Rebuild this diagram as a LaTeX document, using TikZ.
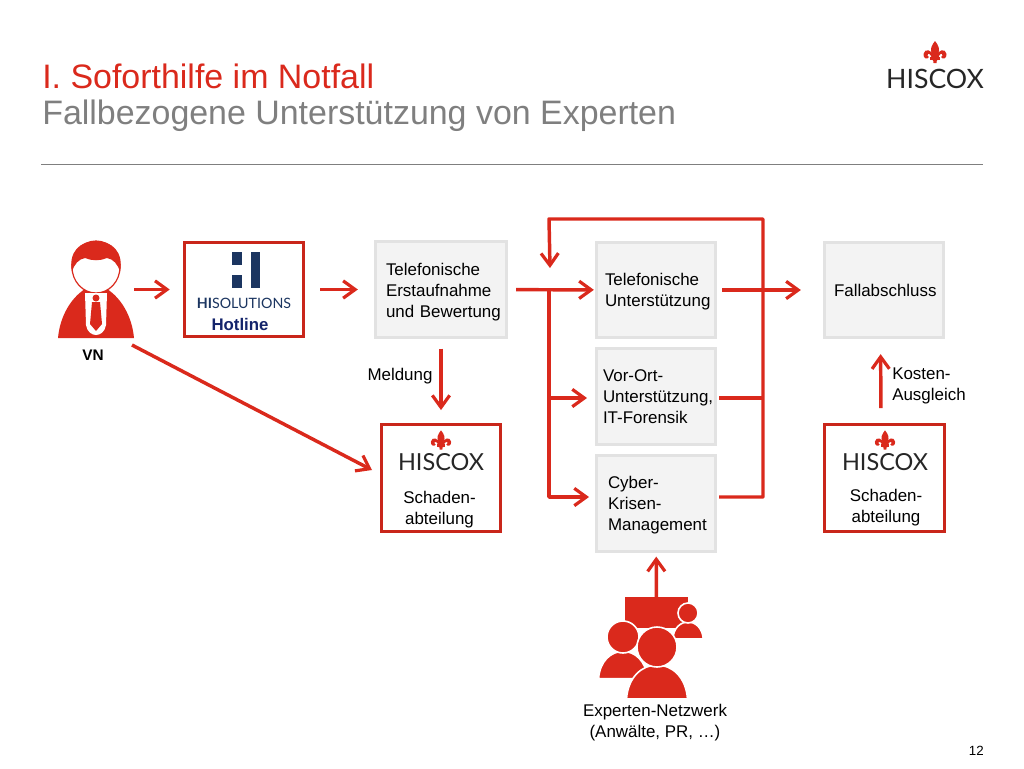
\documentclass[tikz,border=0pt]{standalone}
\usepackage{fontspec}
\setmainfont{Liberation Sans}
\newfontfamily\logofont{Lato}
\usetikzlibrary{arrows.meta}
\definecolor{hisred}{HTML}{DA291C}
\definecolor{boxgrey}{HTML}{F3F3F3}
\definecolor{boxline}{HTML}{E2E2E2}
\definecolor{titlegrey}{HTML}{7F7F7F}
\definecolor{hinavy}{HTML}{1B3560}
\definecolor{hotblue}{HTML}{14246B}
\newcommand{\down}[1]{\rule{0pt}{#1}}
\tikzset{
  flow/.style={draw=hisred, line width=2.6pt, line join=round},
  flowarrow/.style={flow, -{Straight Barb[length=9pt,width=13pt,line width=2.4pt]}},
  gap/.style 2 args={shorten <=#1*.75pt, shorten >=#2*.75pt},
  greybox/.style={draw=boxline, fill=boxgrey, line width=2.2pt, minimum width=89.5pt, minimum height=71.5pt, align=left, inner sep=0pt, font=\fontsize{12.7pt}{15.7pt}\selectfont, execute at begin node={\hyphenpenalty=10000\exhyphenpenalty=10000}},
  redbox/.style={draw=hisred!92!black, fill=white, line width=2.4pt, minimum width=89.5pt, inner sep=0pt},
  lbl/.style={align=center, inner sep=0pt, font=\fontsize{12.7pt}{15.7pt}\selectfont},
  logotext/.style={inner sep=0pt, text=black!85, font=\logofont\fontsize{#1}{20pt}\selectfont},
  fleur/.pic={
    \fill[hisred] (0,-11) .. controls (3,-7) and (6,-3) .. (2.5,3) -- (1.5,11) -- (-1.5,11) -- (-2.5,3) .. controls (-6,-3) and (-3,-7) .. (0,-11) -- cycle;
    \fill[hisred] (-1,5) .. controls (-3,-3) and (-10.5,-4) .. (-11.5,2) .. controls (-12,6.5) and (-7.5,8) .. (-6,5) .. controls (-7.5,5) and (-8,3) .. (-7,2) .. controls (-5,1) and (-3.5,4) .. (-3,8) -- (-1,8) -- cycle;
    \fill[hisred] (1,5) .. controls (3,-3) and (10.5,-4) .. (11.5,2) .. controls (12,6.5) and (7.5,8) .. (6,5) .. controls (7.5,5) and (8,3) .. (7,2) .. controls (5,1) and (3.5,4) .. (3,8) -- (1,8) -- cycle;
    \fill[hisred] (-5,5) rectangle (5,7.5);
  },
  buddy/.pic={
    \draw[fill=hisred, draw=white, line width=1.2pt] (-30.5,52) .. controls (-29,30) and (-15,18) .. (0,18) .. controls (15,18) and (29,30) .. (30.5,52) -- cycle;
    \draw[fill=hisred, draw=white, line width=1.2pt] (0,0) circle (20);
  }
}
\begin{document}
\begin{tikzpicture}[x=.75pt, y=-.75pt]
\useasboundingbox (0,0) rectangle (1024,768);

\node[anchor=base west, inner sep=0pt, text=hisred, font=\fontsize{25.45pt}{28pt}\selectfont] (titleA) at (42,88) {I. Soforthilfe im Notfall};
\node[anchor=base west, inner sep=0pt, text=titlegrey, font=\fontsize{25.45pt}{28pt}\selectfont] (titleB) at (42,124) {Fallbezogene Unterstützung von Experten};
\coordinate (ruleL) at (41,164);
\coordinate (ruleR) at (983,164);
\draw[titlegrey, line width=.7pt] (ruleL) -- (ruleR);

\pic at (935,52) {fleur};
\node[logotext=20pt] (logoA) at (935,79) {HISCOX};

% person
\node[minimum width=57pt, minimum height=73pt, inner sep=0pt] (person) at (96,289.5) {};
\fill[hisred] (58,338) .. controls (60,316) and (71,298) .. (85,289) -- (107,289) .. controls (121,298) and (132,316) .. (134,338) -- cycle;
\draw[hisred, fill=white, line width=.9pt] (96,267) ellipse (24 and 26);
\fill[hisred] (72,272) .. controls (68,252) and (80,241) .. (96,241) .. controls (112,241) and (124,252) .. (120,272) .. controls (118,264) and (113,259) .. (107,258) .. controls (100,261) and (92,261) .. (85,258) .. controls (79,259) and (74,264) .. (72,272) -- cycle;
\fill[white] (85,293) -- (107,293) -- (106,325) .. controls (105,332) and (100,335) .. (96,335) .. controls (92,335) and (87,332) .. (86,325) -- cycle;
\fill[hisred] (96,298) circle (3.5);
\fill[hisred] (92,302) -- (100,302) -- (102,324) -- (96,331) -- (90,324) -- cycle;
\node[inner sep=0pt, font=\bfseries\fontsize{11.5pt}{13pt}\selectfont] (vn) at (93,355) {VN};

\node[redbox, minimum height=71pt] (hotline) at (244,289.5) {};
\fill[hinavy] (232,252) rectangle (242,265);
\fill[hinavy] (232,275) rectangle (242,288);
\fill[hinavy] (251,252) rectangle (260,288);
\node[inner sep=0pt, text=hinavy, font=\logofont\fontsize{10.7pt}{14pt}\selectfont] (hisol) at (244,303) {\textbf{HI}SOLUTIONS};
\node[inner sep=0pt, text=hotblue, font=\bfseries\fontsize{12.6pt}{14pt}\selectfont] (hotlabel) at (240,324) {Hotline};

\node[greybox, minimum width=98.5pt, text width=82.5pt] (erst) at (441,289.5) {\down{13.7pt}Telefonische\\Erstaufnahme\\\mbox{und Bewertung}};
\node[greybox, text width=76.5pt] (telef) at (656,290) {\down{12.2pt}Telefonische\\Unterstützung};
\node[greybox, text width=79.5pt] (vor) at (656,396.5) {Vor-Ort-\\Unterstützung,\\IT-Forensik};
\node[greybox, text width=72pt] (cyber) at (656,503.5) {\down{12.2pt}Cyber-\\Krisen-\\Management};
\node[greybox, text width=75pt] (fall) at (884,290) {\down{10.5pt}Fallabschluss};

\node[redbox, minimum height=80pt] (schadenA) at (441,478) {};
\pic[scale=.88] at (441,440) {fleur};
\node[logotext=17.6pt] (logoB) at (441,462) {HISCOX};
\node[lbl] (schadenAtext) at (439.5,509.5) {Schaden-\\abteilung};

\node[redbox, minimum height=80pt] (schadenB) at (884.5,478) {};
\pic[scale=.88] at (885,440) {fleur};
\node[logotext=17.6pt] (logoC) at (885,462) {HISCOX};
\node[lbl] (schadenBtext) at (886,508) {Schaden-\\abteilung};

\node[lbl] (meldung) at (400,376.5) {Meldung};
\node[lbl, anchor=west, align=left] (kosten) at (892,386) {Kosten-\\Ausgleich};

% experten
\node[fill=hisred, minimum width=47pt, minimum height=23pt, inner sep=0pt] (screen) at (656.5,612.5) {};
\pic[scale=.5] at (688,613) {buddy};
\pic[scale=.8] at (623,637) {buddy};
\pic at (657,647) {buddy};
\node[lbl] (experten) at (655,722.5) {Experten-Netzwerk\\(Anwälte, PR, …)};

\node[anchor=base east, inner sep=0pt, font=\fontsize{10pt}{12pt}\selectfont] (pagenum) at (984,755) {12};

\coordinate (vnout) at (132,345);
\coordinate (schadenin) at (372,470);
\coordinate (split) at (549,290);
\coordinate (splitvor) at (549,398);
\coordinate (vorin) at (587,398);
\coordinate (cyberin) at (589,497);
\coordinate (vorout) at (719,398);
\coordinate (cyberout) at (719,497);
\coordinate (busvor) at (763,398);
\coordinate (buscyb) at (763,497);
\coordinate (bustop) at (763,219);
\coordinate (backtop) at (549,219);
\coordinate (backin) at (550,268);

\draw[flowarrow, gap={0}{13}] (person) -- (hotline);
\draw[flowarrow, gap={15}{16}] (hotline) -- (erst);
\draw[flowarrow, gap={8}{1}] (erst) -- (telef);
\draw[flowarrow, gap={10}{13}] (erst) -- (schadenA);
\draw[flowarrow] (vnout) -- (schadenin);
\draw[flow] (split) -- (splitvor);
\draw[flowarrow] (splitvor) -- (vorin);
\draw[flowarrow] (split) |- (cyberin);
\draw[flowarrow, gap={5}{22}] (telef) -- (fall);
\draw[flow] (vorout) -- (busvor);
\draw[flowarrow] (cyberout) -- (buscyb) -- (bustop) -- (backtop) -- (backin);
\draw[flowarrow, gap={15}{15}] ([xshift=-2.6pt]schadenB.north) -- ([xshift=-2.6pt]fall.south);
\draw[flowarrow, gap={0}{4}] (screen) -- (cyber);
\end{tikzpicture}
\end{document}
